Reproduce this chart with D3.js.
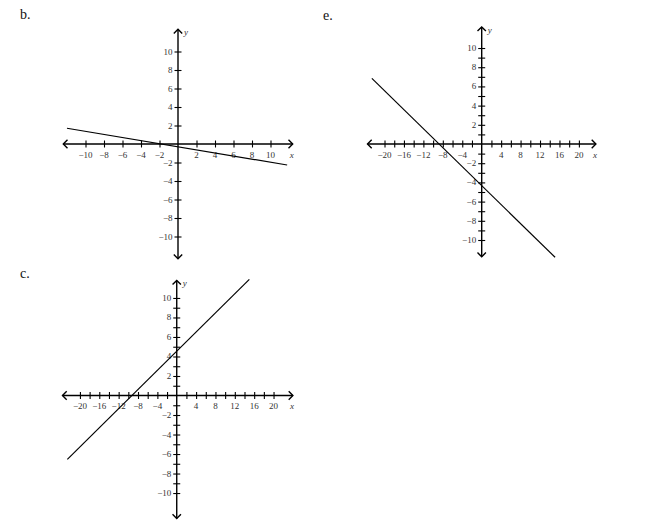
<!DOCTYPE html>
<html>
<head>
<meta charset="utf-8">
<script src="https://cdn.jsdelivr.net/npm/d3@7"></script>
<style>
  body { margin: 0; background: #fff; }
  svg { display: block; }
  svg text { font-family: "Liberation Serif", "Times New Roman", "DejaVu Serif", serif; }
</style>
</head>
<body>
<div id="chart"></div>
<script>
// values
// panel b
var bXTicks = [-10, -8, -6, -4, -2, 2, 4, 6, 8, 10];
var bYTicks = [-10, -8, -6, -4, -2, 2, 4, 6, 8, 10];
var bXLabels = [-10, -8, -6, -4, -2, 2, 4, 6, 8, 10];
var bYLabels = [-10, -8, -6, -4, -2, 2, 4, 6, 8, 10];
var bLineX = [-12.0, 11.8];
var bLineY = [1.7, -2.27];

// panel e
var eXTicks = [-20, -18, -16, -14, -12, -10, -8, -6, -4, -2, 2, 4, 6, 8, 10, 12, 14, 16, 18, 20];
var eYTicks = [-10, -9, -8, -7, -6, -5, -4, -3, -2, -1, 1, 2, 3, 4, 5, 6, 7, 8, 9, 10];
var eXLabels = [-20, -16, -12, -8, -4, 4, 8, 12, 16, 20];
var eYLabels = [-10, -8, -6, -4, -2, 2, 4, 6, 8, 10];
var eLineX = [-22.6, 15.1];
var eLineY = [6.84, -11.8];

// panel c
var cXTicks = eXTicks;
var cYTicks = eYTicks;
var cXLabels = [-20, -16, -12, -8, -4, 4, 8, 12, 16, 20];
var cYLabels = [-10, -8, -6, -4, -2, 2, 4, 6, 8, 10];
var cLineX = [-22.6, 15.0];
var cLineY = [-6.55, 11.9];

var panels = [
  { name: "b.", nameX: 20, nameY: 19,
    xDomain: [-12.4, 12.4], xRange: [63.3, 292.7],
    yDomain: [-12.4, 12.4], yRange: [258.7, 29.3],
    xTicks: bXTicks, yTicks: bYTicks, xLabels: bXLabels, yLabels: bYLabels,
    lineX: bLineX, lineY: bLineY },
  { name: "e.", nameX: 323, nameY: 20,
    xDomain: [-23.5, 23.5], xRange: [367.5, 595.9],
    yDomain: [-11.75, 12.2], yRange: [256.8, 26.9],
    xTicks: eXTicks, yTicks: eYTicks, xLabels: eXLabels, yLabels: eYLabels,
    lineX: eLineX, lineY: eLineY },
  { name: "c.", nameX: 20, nameY: 278,
    xDomain: [-23.6, 24], xRange: [62.5, 292.9],
    yDomain: [-12.6, 11.8], yRange: [518.4, 280.4],
    xTicks: cXTicks, yTicks: cYTicks, xLabels: cXLabels, yLabels: cYLabels,
    lineX: cLineX, lineY: cLineY }
];

var svg = d3.select("#chart")
  .append("svg")
  .attr("width", 653)
  .attr("height", 523);

var fmt = d3.format("");

panels.forEach(function (p) {
  var x = d3.scaleLinear().domain(p.xDomain).range(p.xRange);
  var y = d3.scaleLinear().domain(p.yDomain).range(p.yRange);
  var g = svg.append("g");

  // panel letter
  g.append("text")
    .attr("x", p.nameX)
    .attr("y", p.nameY)
    .attr("font-size", 14)
    .attr("fill", "#111")
    .text(p.name);

  // x axis through y = 0
  var xAxis = g.append("g")
    .attr("transform", "translate(0," + y(0) + ")")
    .call(d3.axisBottom(x).tickValues(p.xTicks).tickSizeInner(3.5).tickSizeOuter(0).tickFormat(""));
  xAxis.select(".domain").remove();
  xAxis.selectAll(".tick line").attr("y1", -3.5).attr("stroke-width", 1.1);

  // y axis through x = 0
  var yAxis = g.append("g")
    .attr("transform", "translate(" + x(0) + ",0)")
    .call(d3.axisLeft(y).tickValues(p.yTicks).tickSizeInner(3.5).tickSizeOuter(0).tickFormat(""));
  yAxis.select(".domain").remove();
  yAxis.selectAll(".tick line").attr("x1", 3.5).attr("stroke-width", 1.1);

  // main axis lines
  g.append("line")
    .attr("x1", x(p.xDomain[0])).attr("x2", x(p.xDomain[1]))
    .attr("y1", y(0)).attr("y2", y(0))
    .attr("stroke", "#000").attr("stroke-width", 1.4);
  g.append("line")
    .attr("x1", x(0)).attr("x2", x(0))
    .attr("y1", y(p.yDomain[0])).attr("y2", y(p.yDomain[1]))
    .attr("stroke", "#000").attr("stroke-width", 1.4);

  // arrow heads (open chevrons)
  var a = 4.2;
  var heads = [
    [x(p.xDomain[0]), y(0), 1, 0],
    [x(p.xDomain[1]), y(0), -1, 0],
    [x(0), y(p.yDomain[0]), 0, -1],
    [x(0), y(p.yDomain[1]), 0, 1]
  ];
  heads.forEach(function (h) {
    var tx = h[0], ty = h[1], dx = h[2], dy = h[3];
    var px = -dy, py = dx;
    var d = "M" + (tx + dx * a + px * a) + "," + (ty + dy * a + py * a) +
      "L" + tx + "," + ty +
      "L" + (tx + dx * a - px * a) + "," + (ty + dy * a - py * a);
    g.append("path")
      .attr("d", d)
      .attr("fill", "none")
      .attr("stroke", "#000")
      .attr("stroke-width", 1.4);
  });

  // tick labels
  g.selectAll(".xlab")
    .data(p.xLabels)
    .enter()
    .append("text")
    .attr("x", function (d) { return x(d); })
    .attr("y", y(0) + 14)
    .attr("text-anchor", "middle")
    .attr("font-size", 9)
    .attr("fill", "#333")
    .text(function (d) { return fmt(d); });

  g.selectAll(".ylab")
    .data(p.yLabels)
    .enter()
    .append("text")
    .attr("x", x(0) - 5.5)
    .attr("y", function (d) { return y(d) + 3; })
    .attr("text-anchor", "end")
    .attr("font-size", 9)
    .attr("fill", "#333")
    .text(function (d) { return fmt(d); });

  // axis names
  g.append("text")
    .attr("x", p.xRange[1] - 3)
    .attr("y", y(0) + 13.5)
    .attr("font-style", "italic")
    .attr("font-size", 9)
    .attr("fill", "#333")
    .text("x");
  g.append("text")
    .attr("x", x(0) + 6)
    .attr("y", p.yRange[1] + 6)
    .attr("font-style", "italic")
    .attr("font-size", 9)
    .attr("fill", "#333")
    .text("y");

  // the graphed line
  var pts = p.lineX.map(function (v, i) { return [v, p.lineY[i]]; });
  g.append("path")
    .datum(pts)
    .attr("fill", "none")
    .attr("stroke", "#000")
    .attr("stroke-width", 1.2)
    .attr("d", d3.line()
      .x(function (d) { return x(d[0]); })
      .y(function (d) { return y(d[1]); }));
});
</script>
</body>
</html>
